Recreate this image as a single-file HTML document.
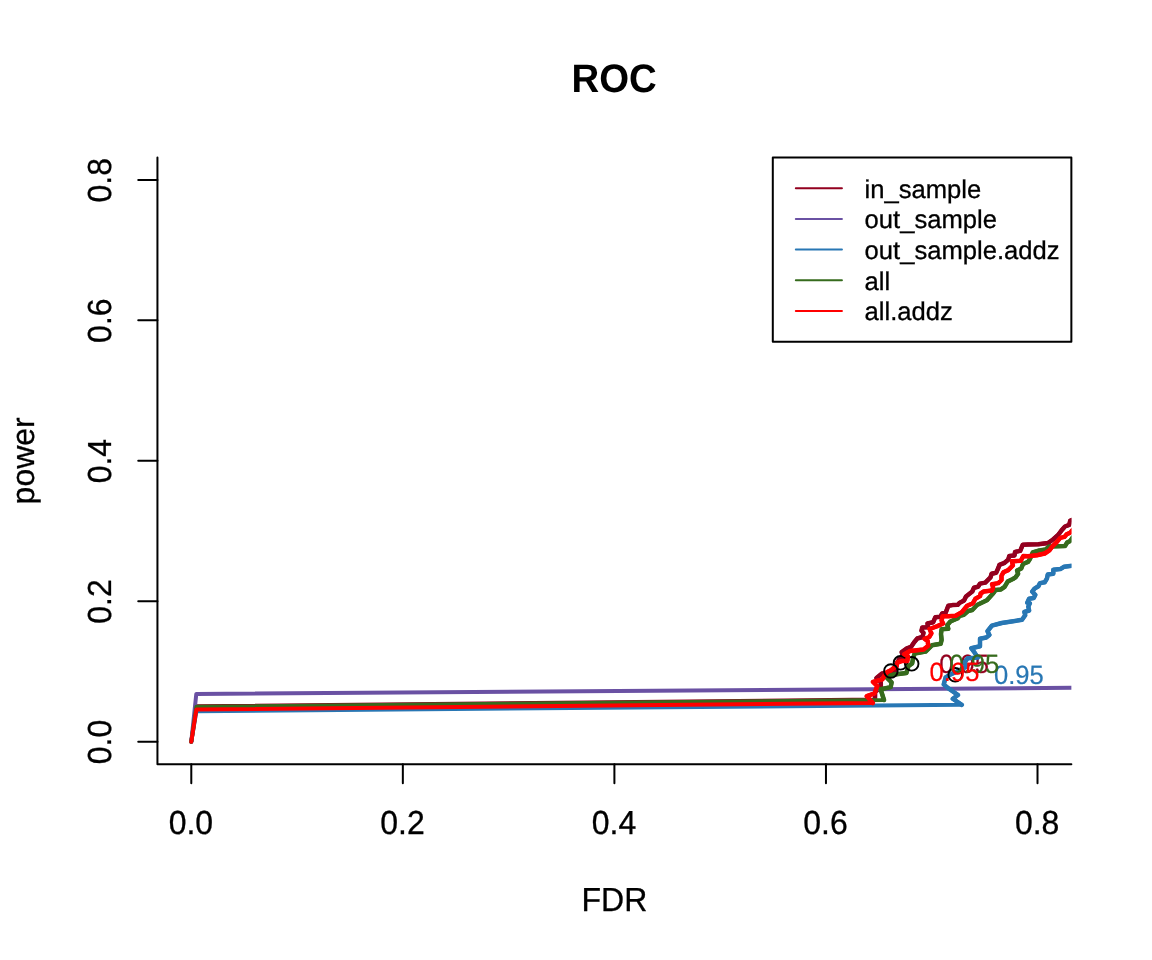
<!DOCTYPE html>
<html><head><meta charset="utf-8">
<style>
html,body{margin:0;padding:0;background:#fff;}
body{width:1152px;height:960px;overflow:hidden;}
svg{display:block;will-change:transform;}
text{font-family:"Liberation Sans",sans-serif;fill:#000;text-rendering:geometricPrecision;stroke:#000;stroke-width:0.3px;}
</style></head>
<body>
<svg width="1152" height="960" viewBox="0 0 1152 960">
<rect width="1152" height="960" fill="#fff"/>
<defs><clipPath id="plot"><rect x="157.44" y="157.44" width="913.92" height="606.72"/></clipPath></defs>
<!-- title -->
<text transform="translate(614.1,92.4) scale(1,1.036)" font-size="38.4" font-weight="bold" text-anchor="middle" style="stroke-width:0">ROC</text>
<!-- axis labels -->
<text transform="translate(614.4,910.8) scale(1,1.04)" font-size="32" text-anchor="middle">FDR</text>
<text transform="translate(34.0,460.8) rotate(-90)" font-size="32" text-anchor="middle">power</text>
<!-- curves -->
<g clip-path="url(#plot)" fill="none" stroke-width="4" stroke-linejoin="round" stroke-linecap="round">
<!--CURVES-->
<polyline points="191.29,741.69 196.4,706.3 875,699.6 875.1,691.5 880.8,688 880.8,682.4 876.5,678 882,673.5 888,673 895.9,670.4 896.5,664 900,658 903.5,658.5 901.7,652.1 906.9,648.4 911,646.9 914.2,642.2 917.3,638.5 922.5,637 923.5,632.8 921.5,630.7 922.3,627.4 928,627.2 927.5,623.5 933.2,622.2 935.3,617.3 940.5,616.8 942.1,613.4 945.7,612.6 948.3,605.8 952.5,605.1 957.7,604.8 959.8,602.7 964,600.6 966,596.5 972.3,591.5 973.9,587.8 978,586.8 980.1,583.6 985.3,582.6 990.5,577.4 991.6,573.75 996.25,572.7 998.3,568 999.4,564.9 1004.6,562.8 1008.2,559.7 1009.3,556 1014.5,555.5 1015,552 1020.2,550.9 1022.8,544.7 1028,544.4 1038.4,544.2 1048.3,542.9 1053,539.5 1058.2,534.8 1061.4,530.6 1065,526.5 1069.2,524.9 1070.2,520.7 1073,519.5" stroke="#93001F"/><polyline points="875,699.6 875.1,691.5 880.8,688 880.8,682.4 876.5,678 882,673.5 888,673 895.9,670.4 896.5,664 900,658 903.5,658.5 901.7,652.1 906.9,648.4 911,646.9 914.2,642.2 917.3,638.5 922.5,637 923.5,632.8 921.5,630.7 922.3,627.4 928,627.2 927.5,623.5 933.2,622.2 935.3,617.3 940.5,616.8 942.1,613.4 945.7,612.6 948.3,605.8 952.5,605.1 957.7,604.8 959.8,602.7 964,600.6 966,596.5 972.3,591.5 973.9,587.8 978,586.8 980.1,583.6 985.3,582.6 990.5,577.4 991.6,573.75 996.25,572.7 998.3,568 999.4,564.9 1004.6,562.8 1008.2,559.7 1009.3,556 1014.5,555.5 1015,552 1020.2,550.9 1022.8,544.7 1028,544.4 1038.4,544.2 1048.3,542.9 1053,539.5 1058.2,534.8 1061.4,530.6 1065,526.5 1069.2,524.9 1070.2,520.7 1073,519.5" stroke="#93001F" stroke-width="4.5"/>
<circle cx="900.5" cy="662.8" r="6.8" stroke="#000" stroke-width="1.9"/>
<text transform="translate(964.10,672.8) scale(1,1.03)" font-size="25.6" text-anchor="middle" style="fill:#93001F;stroke:#93001F;stroke-width:0.2px">0.95</text>
<polyline points="191.29,741.69 196.3,693.9 1073,687.75" stroke="#6A51A3"/>
<polyline points="191.29,741.69 196.4,711.2 961.8,704.8 952.8,698.75 958.0,695 948.1,688.1 943.75,684.4 945.6,677.5 950.6,674.4 957.5,671.2 962.8,668.6 966.5,666.8 964.8,662.0 967.6,658.3 977.8,657.6 974.6,652.6 971.3,648.2 980,646.25 980,638.75 986.25,637.5 989.4,635 987.5,631.25 991.9,625.6 1001.7,623 1022,619.8 1025.2,615.2 1024.4,612 1029.1,610.5 1028.3,606.6 1029.8,603.4 1027.3,602.7 1029.1,598.75 1033.75,598 1035.3,594.8 1032.2,591.7 1034.5,588.6 1038.4,586.25 1040,583.1 1044.7,582.3 1047,578.4 1047.8,574.5 1053.3,573.75 1053.3,569.8 1060.3,569.1 1064.2,566.7 1073,565.6" stroke="#2877B4"/><polyline points="961.8,704.8 952.8,698.75 958.0,695 948.1,688.1 943.75,684.4 945.6,677.5 950.6,674.4 957.5,671.2 962.8,668.6 966.5,666.8 964.8,662.0 967.6,658.3 977.8,657.6 974.6,652.6 971.3,648.2 980,646.25 980,638.75 986.25,637.5 989.4,635 987.5,631.25 991.9,625.6 1001.7,623 1022,619.8 1025.2,615.2 1024.4,612 1029.1,610.5 1028.3,606.6 1029.8,603.4 1027.3,602.7 1029.1,598.75 1033.75,598 1035.3,594.8 1032.2,591.7 1034.5,588.6 1038.4,586.25 1040,583.1 1044.7,582.3 1047,578.4 1047.8,574.5 1053.3,573.75 1053.3,569.8 1060.3,569.1 1064.2,566.7 1073,565.6" stroke="#2877B4" stroke-width="4.5"/>
<circle cx="955.2" cy="674.8" r="6.8" stroke="#000" stroke-width="1.9"/>
<text transform="translate(1018.80,683.6) scale(1,1.03)" font-size="25.6" text-anchor="middle" style="fill:#2877B4;stroke:#2877B4;stroke-width:0.2px">0.95</text>
<polyline points="191.29,741.69 196.4,706.8 884,700.0 880.6,689.2 890.7,687.1 891.6,682.4 887.3,678.2 891.25,675.1 898.5,674.1 906.4,673.0 908.4,666.1 912.1,663.5 913.1,658.3 914.7,653.6 925.6,651.6 931.9,645.3 940.7,643.75 941.6,640 941.0,634 941.6,629.3 948.3,628.75 947.3,625.1 950.4,621.5 957.7,618.3 959.8,615.7 964,614.7 968.1,611 972.3,610 977,605 986.9,600.3 993.1,593.5 995.7,589.9 1000.9,589.4 1004.6,586.8 1007.7,581.6 1012.9,579 1015.5,577.4 1018.1,573.75 1017.1,570.6 1021.25,568.5 1023,564 1028,561.9 1030.1,558.75 1032.7,552.5 1039.5,550.4 1045.7,549.4 1049,546.5 1065,546 1067.1,542.6 1070.2,541 1073,537" stroke="#366B1D"/><polyline points="884,700.0 880.6,689.2 890.7,687.1 891.6,682.4 887.3,678.2 891.25,675.1 898.5,674.1 906.4,673.0 908.4,666.1 912.1,663.5 913.1,658.3 914.7,653.6 925.6,651.6 931.9,645.3 940.7,643.75 941.6,640 941.0,634 941.6,629.3 948.3,628.75 947.3,625.1 950.4,621.5 957.7,618.3 959.8,615.7 964,614.7 968.1,611 972.3,610 977,605 986.9,600.3 993.1,593.5 995.7,589.9 1000.9,589.4 1004.6,586.8 1007.7,581.6 1012.9,579 1015.5,577.4 1018.1,573.75 1017.1,570.6 1021.25,568.5 1023,564 1028,561.9 1030.1,558.75 1032.7,552.5 1039.5,550.4 1045.7,549.4 1049,546.5 1065,546 1067.1,542.6 1070.2,541 1073,537" stroke="#366B1D" stroke-width="4.5"/>
<circle cx="911.7" cy="663.8" r="6.8" stroke="#000" stroke-width="1.9"/>
<text transform="translate(974.30,672.8) scale(1,1.03)" font-size="25.6" text-anchor="middle" style="fill:#366B1D;stroke:#366B1D;stroke-width:0.2px">0.95</text>
<polyline points="191.29,741.69 196.4,709.5 872.8,703.0 866.8,696.2 874.6,693.3 877.2,686.0 873.0,681.9 882.4,679.3 884.5,675.6 887.1,672.0 890.7,670.4 893.9,667.8 896.5,666.1 897.5,662.5 902.2,660.9 907.4,660.9 907.9,656.25 904.3,654.2 910,651 923.5,649.5 928.2,645.8 927.7,641.1 924.6,638.8 929.3,637 931.4,633.3 929.6,629.0 937.4,626.1 943.1,623.5 941.6,620.4 942.6,616.25 948.3,616.25 955.6,615.7 961.9,612.1 967.1,605.8 972.8,603.3 975.4,598.75 980.1,596.1 980.6,593.5 983.75,591.5 992.1,590.4 993.1,587.3 992.1,584.2 998.3,583.1 1001.5,580 1001.5,575.8 1003.5,572.2 1008.2,570.1 1012.9,565.4 1011.9,561.25 1020.7,560.8 1023.3,556.1 1028,556.2 1036.9,555.2 1044.7,553.5 1049.4,550.4 1052.5,546.25 1056.7,542.1 1060.3,537.9 1064.5,536.9 1066.6,534.3 1070.2,532.7 1073,529.5" stroke="#FF0000"/><polyline points="872.8,703.0 866.8,696.2 874.6,693.3 877.2,686.0 873.0,681.9 882.4,679.3 884.5,675.6 887.1,672.0 890.7,670.4 893.9,667.8 896.5,666.1 897.5,662.5 902.2,660.9 907.4,660.9 907.9,656.25 904.3,654.2 910,651 923.5,649.5 928.2,645.8 927.7,641.1 924.6,638.8 929.3,637 931.4,633.3 929.6,629.0 937.4,626.1 943.1,623.5 941.6,620.4 942.6,616.25 948.3,616.25 955.6,615.7 961.9,612.1 967.1,605.8 972.8,603.3 975.4,598.75 980.1,596.1 980.6,593.5 983.75,591.5 992.1,590.4 993.1,587.3 992.1,584.2 998.3,583.1 1001.5,580 1001.5,575.8 1003.5,572.2 1008.2,570.1 1012.9,565.4 1011.9,561.25 1020.7,560.8 1023.3,556.1 1028,556.2 1036.9,555.2 1044.7,553.5 1049.4,550.4 1052.5,546.25 1056.7,542.1 1060.3,537.9 1064.5,536.9 1066.6,534.3 1070.2,532.7 1073,529.5" stroke="#FF0000" stroke-width="4.5"/>
<circle cx="890.9" cy="671.0" r="6.8" stroke="#000" stroke-width="1.9"/>
<text transform="translate(954.50,681.1) scale(1,1.03)" font-size="25.6" text-anchor="middle" style="fill:#FF0000;stroke:#FF0000;stroke-width:0.2px">0.95</text>
<!--/CURVES-->
</g>
<!-- box (bty=l) and axes -->
<g stroke="#000" stroke-width="2" fill="none" stroke-linecap="round" stroke-linejoin="round">
<path d="M157.44 157.44V764.16H1071.36"/>
<path d="M191.29 764.16V783.36M402.84 764.16V783.36M614.4 764.16V783.36M825.96 764.16V783.36M1037.51 764.16V783.36"/>
<path d="M157.44 741.69H138.24M157.44 601.24H138.24M157.44 460.8H138.24M157.44 320.36H138.24M157.44 179.91H138.24"/>
</g>
<g font-size="32" text-anchor="middle">
<text transform="translate(190.89,833.7) scale(1,1.04)">0.0</text><text transform="translate(402.44,833.7) scale(1,1.04)">0.2</text><text transform="translate(614.00,833.7) scale(1,1.04)">0.4</text><text transform="translate(825.56,833.7) scale(1,1.04)">0.6</text><text transform="translate(1037.11,833.7) scale(1,1.04)">0.8</text>
<text transform="translate(111.1,741.99) rotate(-90) scale(1,1.04)">0.0</text>
<text transform="translate(111.1,601.54) rotate(-90) scale(1,1.04)">0.2</text>
<text transform="translate(111.1,461.10) rotate(-90) scale(1,1.04)">0.4</text>
<text transform="translate(111.1,320.66) rotate(-90) scale(1,1.04)">0.6</text>
<text transform="translate(111.1,180.21) rotate(-90) scale(1,1.04)">0.8</text>
</g>
<!--LEGEND-->
<rect x="772.8" y="157.44" width="298.56" height="184.32" fill="#fff" stroke="#000" stroke-width="2" stroke-linejoin="round"/>
<line x1="795.84" y1="188.16" x2="841.92" y2="188.16" stroke="#93001F" stroke-width="2" stroke-linecap="round"/>
<text x="864.60" y="197.56" font-size="25.6">in_sample</text>
<line x1="795.84" y1="218.88" x2="841.92" y2="218.88" stroke="#6A51A3" stroke-width="2" stroke-linecap="round"/>
<text x="864.60" y="228.28" font-size="25.6">out_sample</text>
<line x1="795.84" y1="249.60" x2="841.92" y2="249.60" stroke="#2877B4" stroke-width="2" stroke-linecap="round"/>
<text x="864.60" y="259.00" font-size="25.6">out_sample.addz</text>
<line x1="795.84" y1="280.32" x2="841.92" y2="280.32" stroke="#366B1D" stroke-width="2" stroke-linecap="round"/>
<text x="864.60" y="289.72" font-size="25.6">all</text>
<line x1="795.84" y1="311.04" x2="841.92" y2="311.04" stroke="#FF0000" stroke-width="2" stroke-linecap="round"/>
<text x="864.60" y="320.44" font-size="25.6">all.addz</text>
<!--/LEGEND-->
</svg>
</body></html>
